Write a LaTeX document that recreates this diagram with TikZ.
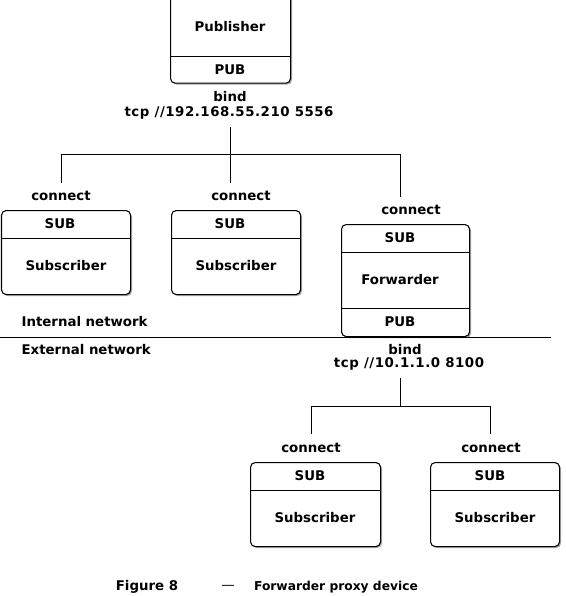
\documentclass[tikz,border=0pt]{standalone}
\usepackage{fontspec}
\setmainfont{DejaVu Sans}
\usetikzlibrary{shadows}
\begin{document}
\begin{tikzpicture}[x=0.75pt,y=-0.75pt,
  box/.style={draw, line width=0.8pt, rounded corners=3.5pt, fill=white, inner sep=0pt,
    drop shadow={shadow xshift=1.1pt, shadow yshift=-1.1pt, opacity=0.35, fill=black}},
  lbl/.style={font=\bfseries\fontsize{10}{12}\selectfont, inner sep=1pt},
  addr/.style={lbl, font=\bfseries\fontsize{10}{12}\selectfont\addfontfeature{LetterSpace=4}},
  wire/.style={line width=0.75pt},
  divider/.style={line width=0.75pt}]
\useasboundingbox (0,0) rectangle (566,596);

% ---------- Publisher ----------
\node[box, anchor=north west, minimum width=90pt, minimum height=68pt] (pub) at (170,-8) {};
\draw[divider] (pub.west |- 0,56) -- (pub.east |- 0,56);
\node[lbl] (pubname) at (230,27) {Publisher};
\node[lbl] (pubsock) at (230,70) {PUB};
\node[lbl] (bind1) at (230,97) {bind};
\node[addr] (tcp1) at (229,113) {tcp //192.168.55.210 5556};

% ---------- internal subscribers ----------
\node[box, anchor=north west, minimum width=96.75pt, minimum height=63pt] (s1) at (1,210) {};
\draw[divider] (s1.west |- 0,238) -- (s1.east |- 0,238);
\node[lbl] (s1sock) at (60,224) {SUB};
\node[lbl] (s1name) at (66,266) {Subscriber};
\node[lbl] (c1) at (61,196) {connect};

\node[box, anchor=north west, minimum width=96.75pt, minimum height=63pt] (s2) at (171,210) {};
\draw[divider] (s2.west |- 0,238) -- (s2.east |- 0,238);
\node[lbl] (s2sock) at (230,224) {SUB};
\node[lbl] (s2name) at (236,266) {Subscriber};
\node[lbl] (c2) at (241,196) {connect};

% ---------- Forwarder ----------
\node[box, anchor=north west, minimum width=96pt, minimum height=84pt] (fwd) at (341,224) {};
\draw[divider] (fwd.west |- 0,252) -- (fwd.east |- 0,252);
\draw[divider] (fwd.west |- 0,308) -- (fwd.east |- 0,308);
\node[lbl] (fsub) at (400,238) {SUB};
\node[lbl] (fname) at (400,280) {Forwarder};
\node[lbl] (fpub) at (400,322) {PUB};
\node[lbl] (c3) at (411,210) {connect};

% ---------- network boundary ----------
\node[lbl, anchor=west] (inet) at (20,322) {Internal network};
\node[lbl, anchor=west] (enet) at (20,350) {External network};
\draw[wire] (0,337) -- (551,337);

\node[lbl] (bind2) at (405,350) {bind};
\node[addr] (tcp2) at (409,364) {tcp //10.1.1.0 8100};

% ---------- external subscribers ----------
\node[box, anchor=north west, minimum width=97.5pt, minimum height=63pt] (s3) at (250,462) {};
\draw[divider] (s3.west |- 0,490) -- (s3.east |- 0,490);
\node[lbl] (s3sock) at (310,476) {SUB};
\node[lbl] (s3name) at (315,518) {Subscriber};
\node[lbl] (c4) at (311,448) {connect};

\node[box, anchor=north west, minimum width=96.75pt, minimum height=63pt] (s4) at (430,462) {};
\draw[divider] (s4.west |- 0,490) -- (s4.east |- 0,490);
\node[lbl] (s4sock) at (490,476) {SUB};
\node[lbl] (s4name) at (495,518) {Subscriber};
\node[lbl] (c5) at (491,448) {connect};

% ---------- connectors ----------
\coordinate (j1) at (230,154);
\coordinate (j2) at (400,406);
\draw[wire] (j1 |- 0,127) -- (j1);
\draw[wire] (61,183) -- (61,154) -- (400,154) -- (400,197);
\draw[wire] (j1) -- (230,183);
\draw[wire] (j2 |- 0,378) -- (j2);
\draw[wire] (311,434) -- (311,406) -- (490,406) -- (490,434);

% ---------- caption ----------
\node[lbl] (cap1) at (147,587) {Figure 8};
\node[font=\fontsize{10}{12}\selectfont, inner sep=1pt] (cap2) at (228,587) {—};
\node[lbl, font=\bfseries\fontsize{9.2}{12}\selectfont] (cap3) at (336,587) {Forwarder proxy device};
\end{tikzpicture}
\end{document}
